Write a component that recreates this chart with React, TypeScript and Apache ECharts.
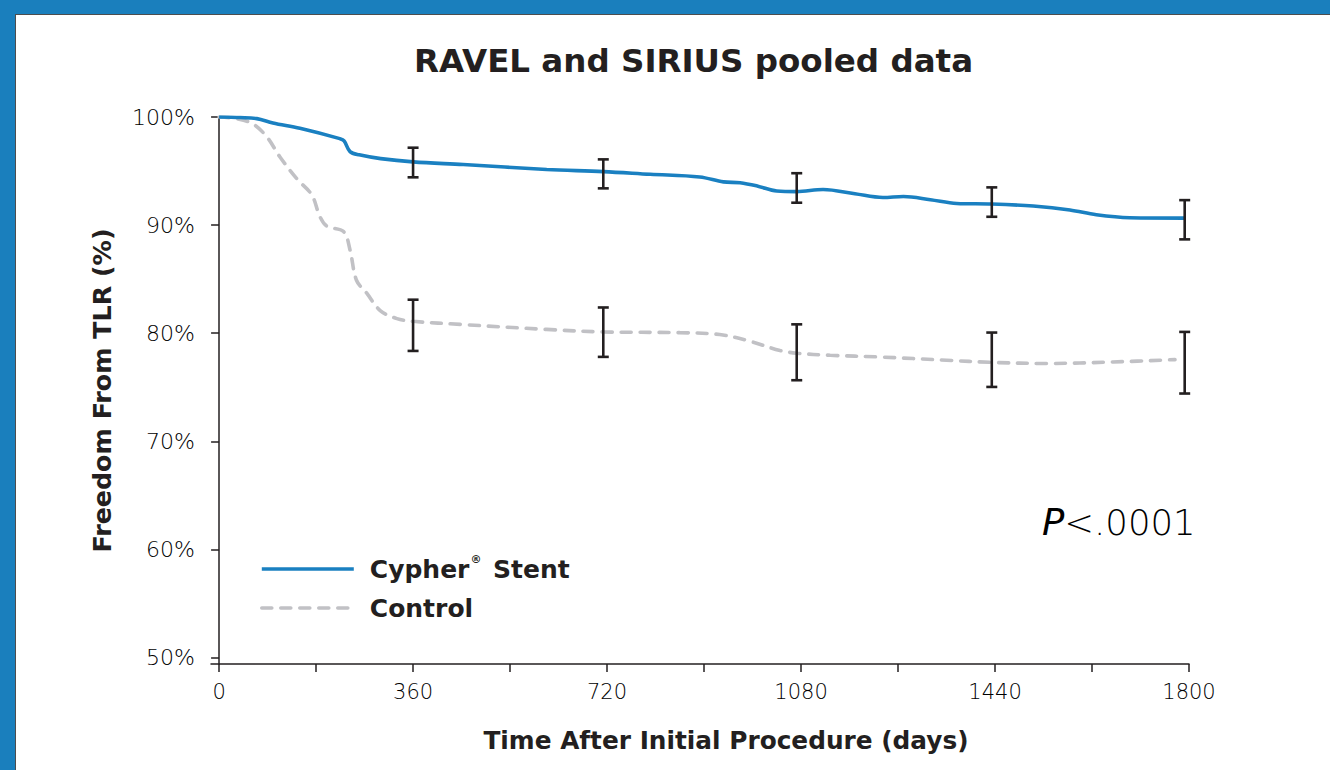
import React, { useEffect, useRef } from "react";
import * as echarts from "echarts";

// Kaplan–Meier style curves (days, % freedom from TLR)
const stentDays = [0, 40, 70, 100, 150, 224, 232, 243, 260, 300, 360, 453, 608, 713, 800, 892, 936, 967, 1000, 1035, 1072, 1121, 1180, 1232, 1270, 1320, 1369, 1434, 1511, 1579, 1628, 1690, 1792];
const stentValues = [100, 99.95, 99.85, 99.45, 98.95, 98.0, 97.8, 96.8, 96.5, 96.15, 95.85, 95.6, 95.15, 94.95, 94.7, 94.45, 94.0, 93.92, 93.6, 93.15, 93.1, 93.3, 92.9, 92.55, 92.65, 92.35, 92.0, 91.95, 91.76, 91.4, 90.95, 90.68, 90.65];

const controlDays = [0, 27, 61, 88, 113, 144, 172, 187, 200, 231, 243, 255, 274, 299, 330, 360, 453, 608, 713, 855, 929, 979, 1041, 1072, 1134, 1226, 1350, 1434, 1536, 1659, 1774];
const controlValues = [100, 99.88, 99.41, 98.2, 96.3, 94.3, 92.8, 90.8, 89.9, 89.4, 87.7, 84.9, 83.7, 82.1, 81.35, 81.1, 80.8, 80.35, 80.12, 80.05, 79.88, 79.35, 78.4, 78.15, 77.96, 77.8, 77.5, 77.3, 77.2, 77.34, 77.56];

// Error bars
const barDays = [360, 713, 1072, 1434, 1792];
const stentLow = [94.42, 93.4, 92.07, 90.77, 88.68];
const stentHigh = [97.16, 96.08, 94.8, 93.49, 92.31];
const controlLow = [78.36, 77.81, 75.65, 75.03, 74.42];
const controlHigh = [83.1, 82.38, 80.82, 80.06, 80.12];

const yTicks = [50, 60, 70, 80, 90, 100];
const xTicks = [0, 180, 360, 540, 720, 900, 1080, 1260, 1440, 1620, 1800];
const xLabels = [0, 360, 720, 1080, 1440, 1800];

const seriesNames = ["Cypher® Stent", "Control"];

const INK = "#231f20";
const BLUE = "#1a80c1";
const GRAY = "#c1c1c5";
const BOLD = "DejaVu Sans";
const LIGHT = "DejaVu Sans";

export default function App() {
  const ref = useRef<HTMLDivElement>(null);

  useEffect(() => {
    if (!ref.current) return;
    const chart = echarts.init(ref.current, null, { renderer: "svg" });

    const errorRender = (params: any, api: any) => {
      const x = api.value(0);
      const lo = api.value(1);
      const hi = api.value(2);
      const pTop = api.coord([x, hi]);
      const pBot = api.coord([x, lo]);
      const w = 5.5;
      const style = { stroke: INK, lineWidth: 2.6, fill: null };
      return {
        type: "group",
        children: [
          { type: "line", shape: { x1: pTop[0], y1: pTop[1], x2: pBot[0], y2: pBot[1] }, style },
          { type: "line", shape: { x1: pTop[0] - w, y1: pTop[1], x2: pTop[0] + w, y2: pTop[1] }, style },
          { type: "line", shape: { x1: pBot[0] - w, y1: pBot[1], x2: pBot[0] + w, y2: pBot[1] }, style },
        ],
      };
    };

    const option: any = {
      animation: false,
      title: {
        text: "RAVEL and SIRIUS pooled data",
        left: 414,
        top: 44,
        padding: 0,
        textStyle: { fontFamily: BOLD, fontWeight: "bold", fontSize: 32.5, color: INK },
      },
      legend: {
        data: seriesNames,
        orient: "vertical",
        left: 260,
        top: 554,
        padding: 0,
        itemWidth: 92,
        itemHeight: 14,
        itemGap: 9,
        itemStyle: { opacity: 0 },
        lineStyle: { width: 3.6 },
        textStyle: {
          fontFamily: BOLD,
          fontWeight: "bold",
          fontSize: 25,
          color: INK,
          lineHeight: 30,
          padding: [0, 0, 0, 11],
          rich: {
            sup: { fontFamily: BOLD, fontWeight: "bold", fontSize: 11, color: INK, verticalAlign: "top", lineHeight: 30, padding: [0, 3, 10, 1] },
          },
        },
        formatter: (name: string) => (name === seriesNames[0] ? "Cypher{sup|®} Stent" : name),
      },
      grid: { left: 211, top: 117, right: 141, bottom: 106, containLabel: false },
      xAxis: {
        type: "value",
        min: -15,
        max: 1800,
        name: "Time After Initial Procedure (days)",
        nameLocation: "middle",
        nameGap: 64,
        nameTextStyle: { fontFamily: BOLD, fontWeight: "bold", fontSize: 24.8, color: INK, padding: [0, 0, 0, 52] },
        splitLine: { show: false },
        axisLine: { show: true, lineStyle: { color: INK, width: 1.5 } },
        axisTick: { show: true, length: 8, customValues: xTicks, lineStyle: { color: INK, width: 1.5 } },
        axisLabel: {
          customValues: xLabels,
          margin: 17,
          formatter: (v: number) => String(v),
          fontFamily: LIGHT,
          fontWeight: 200,
          fontSize: 21,
          color: "#000000",
        },
      },
      yAxis: {
        type: "value",
        min: 49.4,
        max: 100,
        name: "Freedom From TLR (%)",
        nameLocation: "middle",
        nameRotate: 90,
        nameGap: 96,
        nameTextStyle: { fontFamily: BOLD, fontWeight: "bold", fontSize: 25.3, color: INK },
        splitLine: { show: false },
        axisLine: { show: true, lineStyle: { color: INK, width: 1.5 } },
        axisTick: { show: true, length: 8, customValues: yTicks, lineStyle: { color: INK, width: 1.5 } },
        axisLabel: { customValues: yTicks, margin: 16, formatter: "{value}%", fontFamily: LIGHT, fontWeight: 200, fontSize: 22, color: "#000000" },
      },
      graphic: [
        {
          type: "text",
          x: 1042,
          y: 522,
          style: {
            text: "{i|P}{n|<.0001}",
            textVerticalAlign: "middle",
            rich: {
              i: { fontFamily: LIGHT, fontStyle: "italic", fontWeight: 200, fontSize: 37, fill: "#000000" },
              n: { fontFamily: LIGHT, fontWeight: 200, fontSize: 35.5, fill: "#000000" },
            },
          },
        },
      ],
      series: [
        {
          name: seriesNames[0],
          type: "line",
          data: stentDays.map((d, i) => [d, stentValues[i]]),
          smooth: 0.35,
          symbol: "none",
          lineStyle: { color: BLUE, width: 3.6 },
          itemStyle: { color: BLUE },
          z: 3,
        },
        {
          name: seriesNames[1],
          type: "line",
          data: controlDays.map((d, i) => [d, controlValues[i]]),
          smooth: 0.35,
          symbol: "none",
          lineStyle: { color: GRAY, width: 3.6, type: [10, 9], cap: "round" },
          itemStyle: { color: GRAY },
          z: 2,
        },
        {
          name: "Cypher® Stent 95% CI",
          type: "custom",
          renderItem: errorRender,
          data: barDays.map((d, i) => [d, stentLow[i], stentHigh[i]]),
          encode: { x: 0, y: [1, 2] },
          z: 4,
        },
        {
          name: "Control 95% CI",
          type: "custom",
          renderItem: errorRender,
          data: barDays.map((d, i) => [d, controlLow[i], controlHigh[i]]),
          encode: { x: 0, y: [1, 2] },
          z: 4,
        },
      ],
    };

    chart.setOption(option);
    return () => chart.dispose();
  }, []);

  return (
    <div style={{ position: "absolute", left: 0, top: 0, width: 1330, height: 770, background: "#1a7fbd", overflow: "hidden" }}>
      <div
        style={{
          position: "absolute",
          left: 15,
          top: 14,
          width: 1330,
          height: 770,
          background: "#ffffff",
          borderTop: "1.5px solid #4d4d4d",
          borderLeft: "1.5px solid #4d4d4d",
        }}
      />
      <div ref={ref} style={{ position: "absolute", left: 0, top: 0, width: 1330, height: 770 }} />
    </div>
  );
}
